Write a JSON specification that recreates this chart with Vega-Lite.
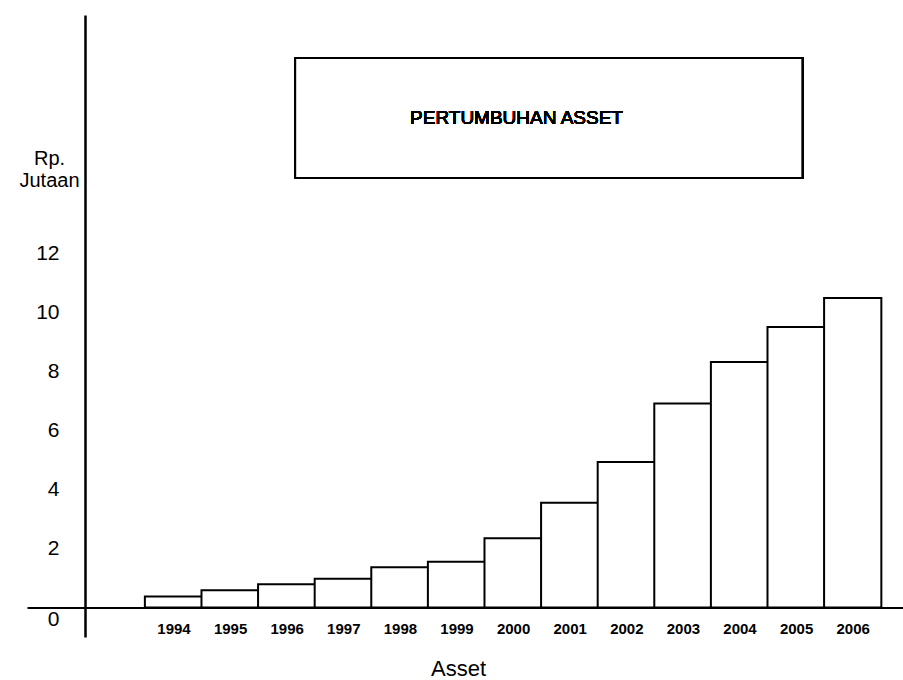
{
  "$schema": "https://vega.github.io/schema/vega-lite/v6.json",
  "autosize": {"type": "none"},
  "padding": {"left": 27, "top": 15, "right": 0, "bottom": 43},
  "width": 876,
  "height": 622,
  "background": "white",
  "config": {
    "view": {"stroke": null},
    "font": "Liberation Sans",
    "axis": {"grid": false, "ticks": false, "domainColor": "black", "labelColor": "black", "titleColor": "black", "labelFont": "Liberation Sans", "titleFont": "Liberation Sans"}
  },
  "data": {
    "values": [
      {"year": 1994, "asset": 0.37},
      {"year": 1995, "asset": 0.59},
      {"year": 1996, "asset": 0.79},
      {"year": 1997, "asset": 0.98},
      {"year": 1998, "asset": 1.37},
      {"year": 1999, "asset": 1.55},
      {"year": 2000, "asset": 2.35},
      {"year": 2001, "asset": 3.55},
      {"year": 2002, "asset": 4.94},
      {"year": 2003, "asset": 6.92},
      {"year": 2004, "asset": 8.33},
      {"year": 2005, "asset": 9.52},
      {"year": 2006, "asset": 10.5}
    ]
  },
  "layer": [
    {
      "mark": {"type": "bar", "width": 57.25, "fill": "white", "stroke": "black", "strokeWidth": 2, "clip": false},
      "encoding": {
        "x": {
          "field": "year", "type": "quantitative",
          "scale": {"domain": [1991.5, 2006.8], "nice": false, "zero": false},
          "axis": {
            "orient": "bottom", "offset": -29.5, "values": [1994, 1995, 1996, 1997, 1998, 1999, 2000, 2001, 2002, 2003, 2004, 2005, 2006],
            "format": "d", "domainWidth": 2, "labelFontSize": 15, "labelFontWeight": "bold", "labelPadding": 14,
            "title": "Asset", "titleFontSize": 22, "titleFontWeight": "normal", "titleBaseline": "middle", "titleX": 431, "titleY": 61
          }
        },
        "y": {
          "field": "asset", "type": "quantitative",
          "scale": {"domain": [-1, 20.1], "nice": false, "zero": false},
          "axis": {
            "orient": "left", "offset": -58, "values": [0, 2, 4, 6, 8, 10, 12],
            "domainWidth": 2.5, "labelFontSize": 21, "labelPadding": 26,
            "labelOffset": {"condition": {"test": "datum.value === 0", "value": 12}, "value": 0},
            "title": ["Rp.", "Jutaan"], "titleAngle": 0, "titleAlign": "center", "titleBaseline": "top",
            "titleX": -36, "titleY": 133, "titleFontSize": 20, "titleFontWeight": "normal", "titleLineHeight": 22
          }
        }
      }
    },
    {
      "mark": {"type": "rect", "fill": "white", "stroke": "black", "strokeWidth": 2},
      "encoding": {
        "x": {"datum": 1996.15},
        "x2": {"datum": 2005.11},
        "y": {"datum": 18.64},
        "y2": {"datum": 14.57}
      }
    },
    {
      "mark": {"type": "text", "fontSize": 19, "font": "Liberation Sans", "align": "center", "baseline": "middle", "color": "black"},
      "encoding": {
        "x": {"datum": 2000.06},
        "y": {"datum": 16.6},
        "text": {"value": "PERTUMBUHAN ASSET"}
      }
    }
  ]
}
